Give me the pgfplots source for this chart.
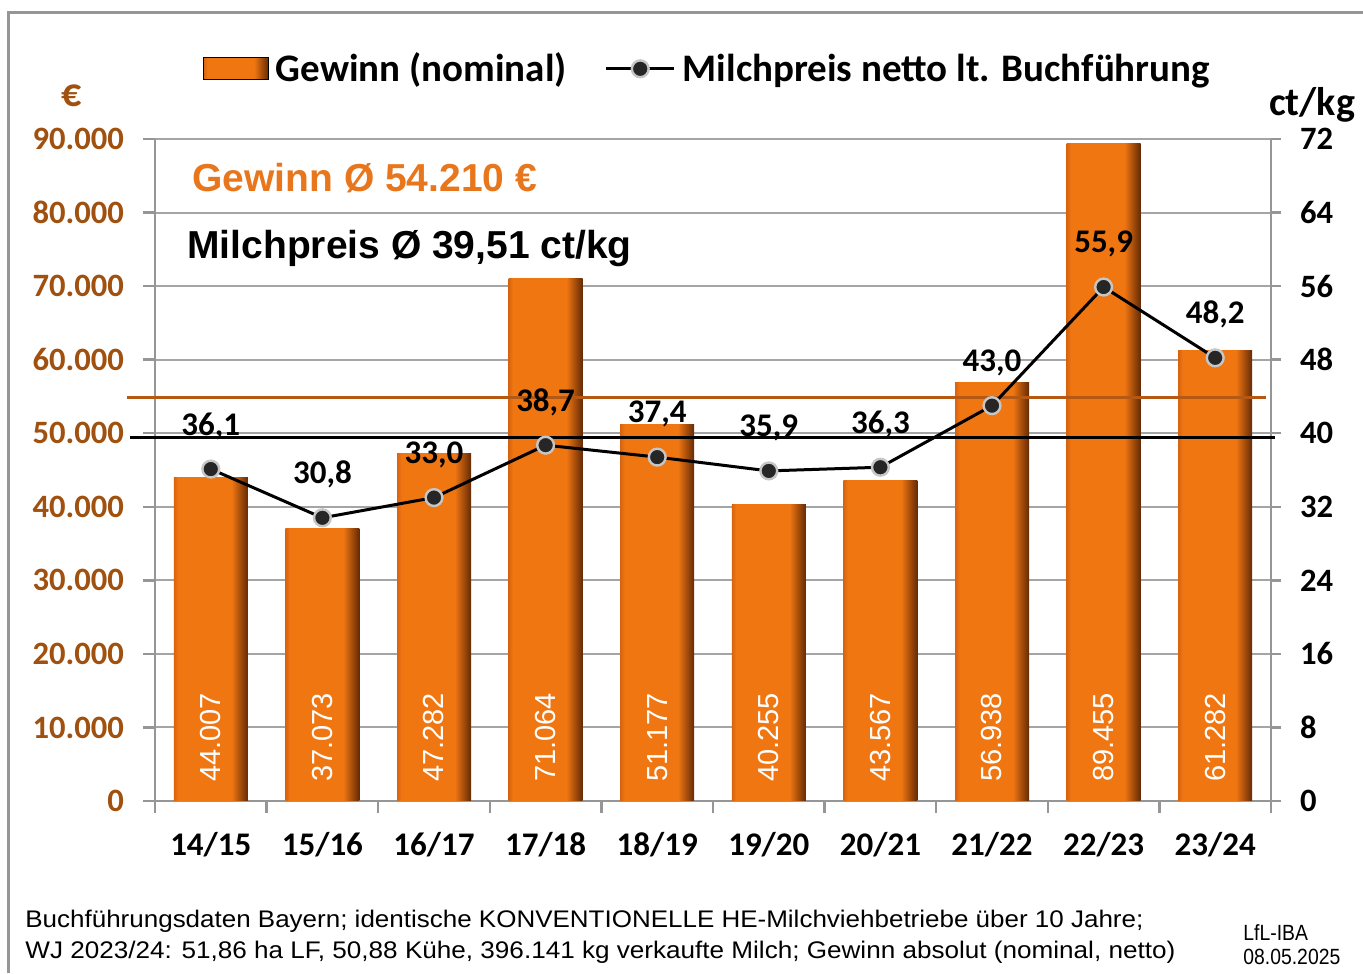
\documentclass[border=0pt]{standalone}
\usepackage{pgfplots}
\pgfplotsset{compat=1.18}
\usepackage{pgfplotstable}
\usepackage{graphicx}
\usepackage{fontspec}
\setmainfont{Liberation Sans}
\newfontfamily\carlito{Carlito}
\newcommand{\cbf}[1]{\carlito\bfseries\fontsize{#1pt}{#1pt}\selectfont}
\definecolor{barO}{RGB}{240,118,18}
\definecolor{barL}{RGB}{215,100,14}
\definecolor{barD}{RGB}{100,42,5}
\definecolor{avgO}{RGB}{180,88,20}
\definecolor{tickB}{RGB}{160,80,15}
\definecolor{txtO}{RGB}{232,118,28}
\definecolor{axG}{RGB}{150,150,150}
\definecolor{grG}{RGB}{165,165,165}
\pgfdeclarehorizontalshading{barshade}{100bp}{color(0bp)=(barL); color(25bp)=(barL); color(28bp)=(barO); color(64bp)=(barO); color(75bp)=(barD); color(100bp)=(barD)}
\pgfplotsset{gbar/.style={ybar, bar width=37pt, bar shift=0pt, draw=none, shade, shading=barshade}}

\pgfplotstableread{
x gewinn lab zero preis plab
0 44007 44.007 0 36.1 36,1
1 37073 37.073 0 30.8 30,8
2 47282 47.282 0 33.0 33,0
3 71064 71.064 0 38.7 38,7
4 51177 51.177 0 37.4 37,4
5 40255 40.255 0 35.9 35,9
6 43567 43.567 0 36.3 36,3
7 56938 56.938 0 43.0 43,0
8 89455 89.455 0 55.9 55,9
9 61282 61.282 0 48.2 48,2
}\data

\begin{document}
\begin{tikzpicture}
\path[use as bounding box] (0pt,0pt) rectangle (681.5pt,486.5pt);
\draw[axG, line width=1.5pt] (4pt,0pt) -- (4pt,480pt) -- (681.5pt,480pt);

\begin{axis}[
  at={(77.5pt,86pt)}, anchor=south west,
  scale only axis, width=558pt, height=331pt,
  xmin=-0.5, xmax=9.5, ymin=0, ymax=90000,
  scaled y ticks=false,
  axis y line*=left, axis x line*=bottom,
  axis line style={axG, line width=1.2pt, -},
  xtick={-0.5,0.5,...,9.5}, x tick label as interval,
  xticklabels={14/15,15/16,16/17,17/18,18/19,19/20,20/21,21/22,22/23,23/24},
  ytick={0,10000,20000,30000,40000,50000,60000,70000,80000,90000},
  yticklabels={0,10.000,20.000,30.000,40.000,50.000,60.000,70.000,80.000,90.000},
  tick align=outside, major tick length=6pt,
  tick style={axG, line width=1.2pt},
  ymajorgrids, grid style={grG, line width=1pt},
  xticklabel style={font=\cbf{16.5}, text=black, yshift=-6pt},
  yticklabel style={font=\cbf{16.3}, text=tickB, xshift=-6pt},
  clip=false,
]
\addplot[gbar] coordinates {(0,44007)};
\addplot[gbar] coordinates {(1,37073)};
\addplot[gbar] coordinates {(2,47282)};
\addplot[gbar] coordinates {(3,71064)};
\addplot[gbar] coordinates {(4,51177)};
\addplot[gbar] coordinates {(5,40255)};
\addplot[gbar] coordinates {(6,43567)};
\addplot[gbar] coordinates {(7,56938)};
\addplot[gbar] coordinates {(8,89455)};
\addplot[gbar] coordinates {(9,61282)};
\addplot[draw=none, mark=none, nodes near coords, point meta=explicit symbolic,
  every node near coord/.style={yshift=9.5pt, rotate=90, anchor=west, inner sep=0pt, font=\fontsize{14.5pt}{14.5pt}\selectfont, text=white}]
  table[x=x, y=zero, meta=lab] {\data};
\addplot[avgO, line width=1.5pt] coordinates {(-0.751,54900) (9.455,54900)};
\node[anchor=west, font=\bfseries\fontsize{19.5pt}{19.5pt}\selectfont, text=txtO, inner sep=0pt] at (rel axis cs:0.0332,0.941) {Gewinn Ø 54.210 €};
\node[anchor=west, font=\bfseries\fontsize{19.5pt}{19.5pt}\selectfont, text=black, inner sep=0pt] at (rel axis cs:0.0287,0.834) {Milchpreis Ø 39,51 ct/kg};
\end{axis}

\begin{axis}[
  at={(77.5pt,86pt)}, anchor=south west,
  scale only axis, width=558pt, height=331pt,
  xmin=-0.5, xmax=9.5, ymin=0, ymax=72,
  axis y line*=right, axis x line=none,
  axis line style={axG, line width=1.2pt, -},
  ytick={0,8,16,24,32,40,48,56,64,72},
  yticklabels={0,8,16,24,32,40,48,56,64,72},
  tick align=outside, major tick length=5pt,
  tick style={axG, line width=1.2pt},
  yticklabel style={font=\cbf{16.3}, text=black, xshift=6pt},
  clip=false,
  legend columns=2,
  legend style={at={(0.496,1.106)}, anchor=center, draw=none, fill=none,
    font=\cbf{19.5}, /tikz/every even column/.append style={column sep=17pt},
    /tikz/every odd column/.append style={column sep=1.5pt}},
]
\addlegendimage{legend image code/.code={\shade[shading=barshade] (0pt,-5.5pt) rectangle (32.5pt,5.5pt);}}
\addlegendentry{Gewinn (nominal)}
\addplot[black, line width=1.5pt, forget plot] coordinates {(-0.724,39.51) (9.536,39.51)};
\addplot[black, line width=1.5pt, mark=*, mark size=4.2pt,
  mark options={fill=black!85, draw=gray!45, line width=1.2pt},
  legend image code/.code={\draw[mark repeat=2,mark phase=2] plot coordinates {(0pt,0pt) (17pt,0pt) (34pt,0pt)};},
  nodes near coords, point meta=explicit symbolic,
  every node near coord/.style={anchor=center, yshift=21.5pt, font=\cbf{16.5}, text=black}]
  table[x=x, y=preis, meta=plab] {\data};
\addlegendentry{Milchpreis netto lt. Buchführung}
\end{axis}

\node[font=\cbf{20}, text=tickB] at (36pt,438.5pt) {€};
\node[font=\cbf{20}, text=black] at (656pt,434pt) {ct/kg};
\node[anchor=base west, inner sep=0pt, font=\fontsize{12pt}{12pt}\selectfont] at (12.5pt,22.75pt)
  {\resizebox{559pt}{\height}{Buchführungsdaten Bayern; identische KONVENTIONELLE HE-Milchviehbetriebe über 10 Jahre;}};
\node[anchor=base west, inner sep=0pt, font=\fontsize{12pt}{12pt}\selectfont] at (12.5pt,7.25pt)
  {\resizebox{575pt}{\height}{WJ 2023/24: 51,86 ha LF, 50,88 Kühe, 396.141 kg verkaufte Milch; Gewinn absolut (nominal, netto)}};
\node[anchor=base west, inner sep=0pt, font=\fontsize{11pt}{11pt}\selectfont] at (621.5pt,16.25pt) {\scalebox{0.88}[1]{LfL-IBA}};
\node[anchor=base west, inner sep=0pt, font=\fontsize{11pt}{11pt}\selectfont] at (621.5pt,4.25pt) {\scalebox{0.88}[1]{08.05.2025}};
\end{tikzpicture}
\end{document}
